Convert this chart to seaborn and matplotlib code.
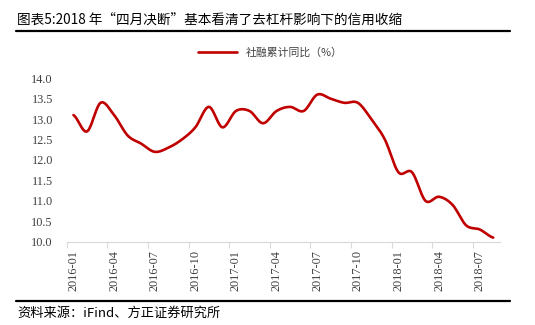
import numpy as np
import pandas as pd
import matplotlib
matplotlib.use("Agg")
import matplotlib.pyplot as plt
import seaborn as sns
from matplotlib.lines import Line2D

months = pd.period_range("2016-01", "2018-08", freq="M").strftime("%Y-%m").tolist()
values = [13.1, 12.7, 13.4, 13.1, 12.6, 12.4, 12.2, 12.3, 12.5, 12.8, 13.3, 12.8,
          13.2, 13.2, 12.9, 13.2, 13.3, 13.2, 13.6, 13.5, 13.4, 13.4, 13.0, 12.5,
          11.7, 11.7, 11.0, 11.1, 10.9, 10.4, 10.3, 10.1]
yticks = [10.0, 10.5, 11.0, 11.5, 12.0, 12.5, 13.0, 13.5, 14.0]
series_name = "社融累计同比（%）"
title = "图表5:2018 年“四月决断”基本看清了去杠杆影响下的信用收缩"
source = "资料来源：iFind、方正证券研究所"

sns.set_theme(style="white")
plt.rcParams['font.family'] = ['Noto Sans CJK SC', 'DejaVu Sans']

# Catmull-Rom smoothing (like Excel smoothed line)
y = np.array(values, dtype=float)
n = len(y)
xs, ys = [], []
steps = 20
for i in range(n - 1):
    p0 = y[i - 1] if i > 0 else y[i]
    p1, p2 = y[i], y[i + 1]
    p3 = y[i + 2] if i + 2 < n else y[i + 1]
    t = np.linspace(0, 1, steps, endpoint=False)
    seg = 0.5 * ((2 * p1) + (-p0 + p2) * t + (2 * p0 - 5 * p1 + 4 * p2 - p3) * t ** 2
                 + (-p0 + 3 * p1 - 3 * p2 + p3) * t ** 3)
    xs.extend(i + t)
    ys.extend(seg)
xs.append(n - 1)
ys.append(y[-1])
df = pd.DataFrame({"x": xs, "y": ys})

fig = plt.figure(figsize=(5.35, 3.25), dpi=100)
ax = fig.add_axes([66.7 / 535, 1 - 241.7 / 325, (500 - 66.7) / 535, (241.7 - 78.3) / 325])
red = "#C00000"
sns.lineplot(data=df, x="x", y="y", ax=ax, color=red, linewidth=1.9, legend=False)

ax.set_xlim(-0.5, n - 0.5)
ax.set_ylim(10.0, 14.0)
ax.set_yticks(yticks)
ax.set_yticklabels([f"{v:.1f}" for v in yticks], family="Liberation Serif", fontsize=8.8, color="#404040")
ax.tick_params(axis="y", length=0, pad=10)

major = list(range(0, n, 3))
ax.set_xticks(major)
ax.set_xticklabels([months[i] for i in major], rotation=90, family="Liberation Serif",
                   fontsize=8.8, color="#404040")
ax.set_xticks([i - 0.5 for i in major], minor=True)
ax.tick_params(axis="x", which="major", length=0, pad=6)
ax.tick_params(axis="x", which="minor", length=4, color="#d9d9d9", width=0.8, bottom=True)
ax.set_xlabel("")
ax.set_ylabel("")
for s in ["top", "right", "left"]:
    ax.spines[s].set_visible(False)
ax.spines["bottom"].set_color("#d9d9d9")
ax.spines["bottom"].set_linewidth(0.8)

# legend
handle = Line2D([0], [0], color=red, linewidth=1.9)
leg = fig.legend([handle], [series_name], loc="center", bbox_to_anchor=(270 / 535, 1 - 53 / 325),
                 frameon=False, fontsize=7.8, handlelength=3.6, handletextpad=0.8)
for t in leg.get_texts():
    t.set_color("#404040")

# title, rules, source
fig.text(17 / 535, 1 - 20 / 325, title, fontsize=9.8, va="center", ha="left", color="black")
fig.add_artist(Line2D([16 / 535, 510 / 535], [1 - 31 / 325, 1 - 31 / 325], color="black", linewidth=1.6))
fig.add_artist(Line2D([16 / 535, 510 / 535], [1 - 301 / 325, 1 - 301 / 325], color="black", linewidth=1.6))
fig.text(17 / 535, 1 - 313 / 325, source, fontsize=9.5, va="center", ha="left", color="black")

fig.savefig("out.png", dpi=100, facecolor="white")
